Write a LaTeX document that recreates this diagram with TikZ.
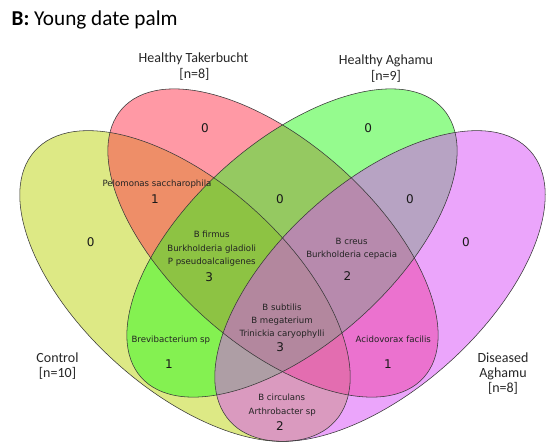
\documentclass[tikz,border=0pt]{standalone}
\usepackage{fontspec}
\setmainfont{Carlito}
\newfontfamily\dvsans{DejaVu Sans}
\definecolor{cyel}{RGB}{189,213,13}
\definecolor{cpink}{RGB}{255,53,77}
\definecolor{cgreen}{RGB}{45,249,31}
\definecolor{cpurp}{RGB}{217,77,249}
\definecolor{cline}{RGB}{55,55,55}
\definecolor{ctext}{RGB}{35,35,35}
\begin{document}
\begin{tikzpicture}[x=1pt,y=-1pt,
  setfill/.style={fill opacity=0.5},
  setline/.style={draw=cline,line width=0.55pt},
  outer/.style={font=\fontsize{14}{16}\selectfont,text=black!85,inner sep=0pt,anchor=base},
  species/.style={font=\dvsans\fontsize{8.6}{10}\selectfont,text=ctext,inner sep=0pt,anchor=base},
  count/.style={font=\dvsans\fontsize{12}{14}\selectfont,text=black!90,inner sep=0pt,anchor=base}]
\useasboundingbox (0,0) rectangle (553,445);
\fill[white] (0,0) rectangle (553,445);
% fills
\begin{scope}[shift={(185,286)},rotate=-42]
  \fill[cyel,setfill] (0,0) ellipse [x radius=202pt,y radius=103pt];
\end{scope}
\begin{scope}[shift={(273,243)},rotate=-41.7]
  \fill[cpink,setfill] (0,0) ellipse [x radius=202pt,y radius=101pt];
\end{scope}
\begin{scope}[shift={(292,243)},rotate=41.7]
  \fill[cgreen,setfill] (0,0) ellipse [x radius=202pt,y radius=101pt];
\end{scope}
\begin{scope}[shift={(380,286)},rotate=42]
  \fill[cpurp,setfill] (0,0) ellipse [x radius=202pt,y radius=103pt];
\end{scope}
% outlines
\begin{scope}[shift={(185,286)},rotate=-42]
  \draw[setline] (0,0) ellipse [x radius=202pt,y radius=103pt];
\end{scope}
\begin{scope}[shift={(273,243)},rotate=-41.7]
  \draw[setline] (0,0) ellipse [x radius=202pt,y radius=101pt];
\end{scope}
\begin{scope}[shift={(292,243)},rotate=41.7]
  \draw[setline] (0,0) ellipse [x radius=202pt,y radius=101pt];
\end{scope}
\begin{scope}[shift={(380,286)},rotate=42]
  \draw[setline] (0,0) ellipse [x radius=202pt,y radius=103pt];
\end{scope}
% title
\node[anchor=base west,font=\fontsize{21.2}{24}\selectfont,inner sep=0pt] (title) at (11.5,25) {\textbf{B:} Young date palm};
% set labels
\node[outer] (tk1) at (193.5,62) {Healthy Takerbucht};
\node[outer] (tk2) at (194.5,78) {[n=8]};
\node[outer] (ag1) at (386,64) {Healthy Aghamu};
\node[outer] (ag2) at (386,80) {[n=9]};
\node[outer] (ct1) at (57.5,362) {Control};
\node[outer] (ct2) at (57.5,377) {[n=10]};
\node[outer] (da1) at (503,362) {Diseased};
\node[outer] (da2) at (503,377) {Aghamu};
\node[outer] (da3) at (503,392.5) {[n=8]};
% counts
\node[count] (n1) at (205,132) {0};
\node[count] (n2) at (368.3,132.3) {0};
\node[count] (n3) at (90.7,246) {0};
\node[count] (n4) at (466,246) {0};
\node[count] (n5) at (280,203.3) {0};
\node[count] (n6) at (410,203.3) {0};
\node[count] (n7) at (155,203.3) {1};
\node[count] (n8) at (209.3,281) {3};
\node[count] (n9) at (347.5,280.5) {2};
\node[count] (n10) at (280.3,351.7) {3};
\node[count] (n11) at (169,368.3) {1};
\node[count] (n12) at (388,368.3) {1};
\node[count] (n13) at (280,430) {2};
% species
\node[species] (s1) at (157,186) {Pelomonas saccharophila};
\node[species] (s2) at (211.7,237.3) {B firmus};
\node[species] (s3) at (211.7,251) {Burkholderia gladioli};
\node[species] (s4) at (211.7,264) {P pseudoalcaligenes};
\node[species] (s5) at (351.7,244.5) {B creus};
\node[species] (s6) at (351.7,257.5) {Burkholderia cepacia};
\node[species] (s7) at (282,310) {B subtilis};
\node[species] (s8) at (282,323) {B megaterium};
\node[species] (s9) at (282,336) {Trinickia caryophylli};
\node[species] (s10) at (170.8,342) {Brevibacterium sp};
\node[species] (s11) at (393.3,342) {Acidovorax facilis};
\node[species] (s12) at (281.7,400) {B circulans};
\node[species] (s13) at (282.3,414) {Arthrobacter sp};
\end{tikzpicture}
\end{document}
